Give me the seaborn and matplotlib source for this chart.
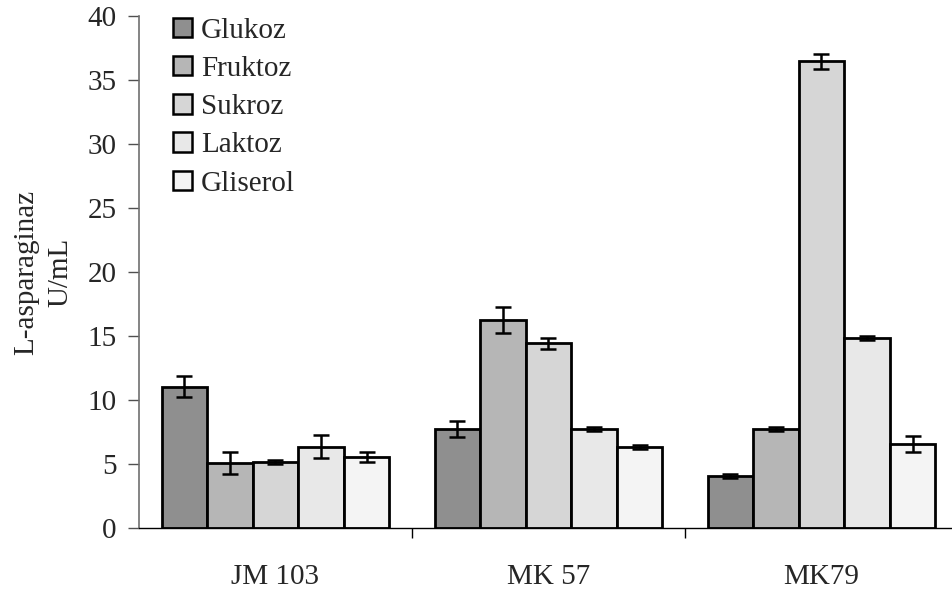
import matplotlib
matplotlib.use("Agg")
import matplotlib.pyplot as plt
import seaborn as sns
import pandas as pd
import numpy as np

strains = ["JM 103", "MK 57", "MK79"]
sources = ["Glukoz", "Fruktoz", "Sukroz", "Laktoz", "Gliserol"]
values = {
    "Glukoz":   [11.04, 7.71, 4.04],
    "Fruktoz":  [5.05, 16.27, 7.71],
    "Sukroz":   [5.18, 14.43, 36.45],
    "Laktoz":   [6.35, 7.71, 14.87],
    "Gliserol": [5.57, 6.30, 6.56],
}
errors = {
    "Glukoz":   [0.80, 0.63, 0.15],
    "Fruktoz":  [0.85, 1.00, 0.15],
    "Sukroz":   [0.15, 0.43, 0.60],
    "Laktoz":   [0.90, 0.15, 0.15],
    "Gliserol": [0.40, 0.15, 0.60],
}
colors = ["#8f8f8f", "#b6b6b6", "#d6d6d6", "#e8e8e8", "#f4f4f4"]

rows = []
for s in sources:
    for st, v in zip(strains, values[s]):
        rows.append({"strain": st, "source": s, "value": v})
df = pd.DataFrame(rows)

sns.set_theme(style="white")
plt.rcParams["font.family"] = ["Liberation Serif", "DejaVu Serif"]

FS = 21

fig = plt.figure(figsize=(9.53, 5.92), dpi=100)
ax = fig.add_axes([139 / 953, 64 / 592, 814 / 953, 512 / 592])

sns.barplot(data=df, x="strain", y="value", hue="source", order=strains,
            hue_order=sources, palette=colors, errorbar=None, width=0.835,
            gap=0, edgecolor="black", linewidth=2, saturation=1, ax=ax)

for cont, s in zip(ax.containers, sources):
    xs = [p.get_x() + p.get_width() / 2 for p in cont]
    ax.errorbar(xs, values[s], yerr=errors[s], fmt="none", ecolor="black",
                elinewidth=1.8, capsize=6, capthick=1.8, zorder=5)

ax.set_ylim(0, 40)
ax.set_yticks(np.arange(0, 41, 5))
ax.set_xlim(-0.5, -0.5 + 814 / 273)
ax.set_xlabel("")
ax.set_ylabel("L-asparaginaz\nU/mL", fontsize=FS, labelpad=10, linespacing=1.4)

for side in ["top", "right"]:
    ax.spines[side].set_visible(False)
ax.spines["left"].set_color("#707070")
ax.spines["left"].set_linewidth(1.2)
ax.spines["bottom"].set_color("black")
ax.spines["bottom"].set_linewidth(1.0)

ax.tick_params(axis="y", which="major", direction="out", length=8, width=1,
               color="#505050", labelsize=FS, left=True, pad=8)
ax.tick_params(axis="x", which="major", length=0, labelsize=FS, pad=26)
ax.set_xticks(range(len(strains)))
ax.set_xticklabels(strains)
ax.set_xticks([0.5, 1.5], minor=True)
ax.tick_params(axis="x", which="minor", direction="out", length=7, width=1,
               color="black", bottom=True)

handles, labels = ax.get_legend_handles_labels()
leg = ax.legend(handles, labels, loc="upper left",
                bbox_to_anchor=((173 - 139) / 814, 0.997),
                frameon=False, fontsize=FS, handlelength=0.65, handleheight=0.65,
                handletextpad=0.3, labelspacing=0.42, borderaxespad=0,
                borderpad=0)
for h in leg.legend_handles:
    h.set_edgecolor("black")
    h.set_linewidth(1.8)

fig.savefig("out.png", dpi=100)
